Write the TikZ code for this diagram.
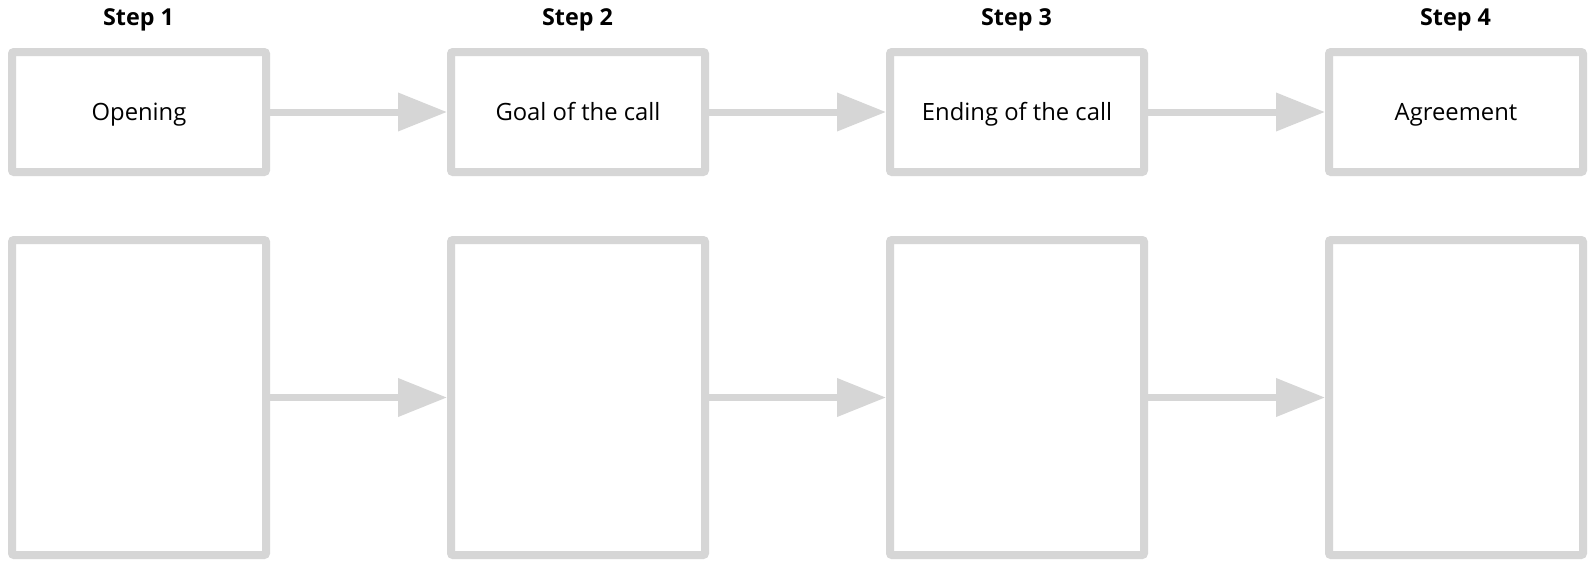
\documentclass[tikz,border=0pt]{standalone}
\usepackage{fontspec}
\setmainfont{Open Sans}
\usetikzlibrary{arrows.meta}
\definecolor{boxgray}{HTML}{D6D6D6}
\begin{document}
\begin{tikzpicture}[x=1pt,y=-1pt,
  stepbox/.style={draw=boxgray,line width=8pt,fill=white,rounded corners=2pt,
    minimum width=254pt,inner sep=0pt,text height=19.4pt,text depth=2.4pt,
    font=\fontsize{23.8}{28}\selectfont},
  topbox/.style={stepbox,minimum height=120pt},
  lowbox/.style={stepbox,minimum height=315pt},
  steplabel/.style={font=\fontsize{23.3}{28}\selectfont\bfseries,inner sep=0pt,anchor=base},
  flow/.style={draw=boxgray,line width=7pt,-{Triangle[length=49pt,width=37pt,fill=boxgray]}}]
\useasboundingbox (0,0) rectangle (1591,560);
\fill[white] (0,0) rectangle (1591,560);
\foreach \i/\x in {1/138.5,2/577.5,3/1016.5,4/1455.5}{
  \node[steplabel] (s\i) at (\x,25) {Step \i};
}
\node[topbox] (t1) at (139,112) {Opening};
\node[topbox] (t2) at (578,112) {Goal of the call};
\node[topbox] (t3) at (1017,112) {Ending of the call};
\node[topbox] (t4) at (1456,112) {Agreement};
\node[lowbox] (b1) at (139,397.5) {};
\node[lowbox] (b2) at (578,397.5) {};
\node[lowbox] (b3) at (1017,397.5) {};
\node[lowbox] (b4) at (1456,397.5) {};
\draw[flow] (t1.east) -- (t2.west);
\draw[flow] (t2.east) -- (t3.west);
\draw[flow] (t3.east) -- (t4.west);
\draw[flow] (b1.east) -- (b2.west);
\draw[flow] (b2.east) -- (b3.west);
\draw[flow] (b3.east) -- (b4.west);
\end{tikzpicture}
\end{document}
